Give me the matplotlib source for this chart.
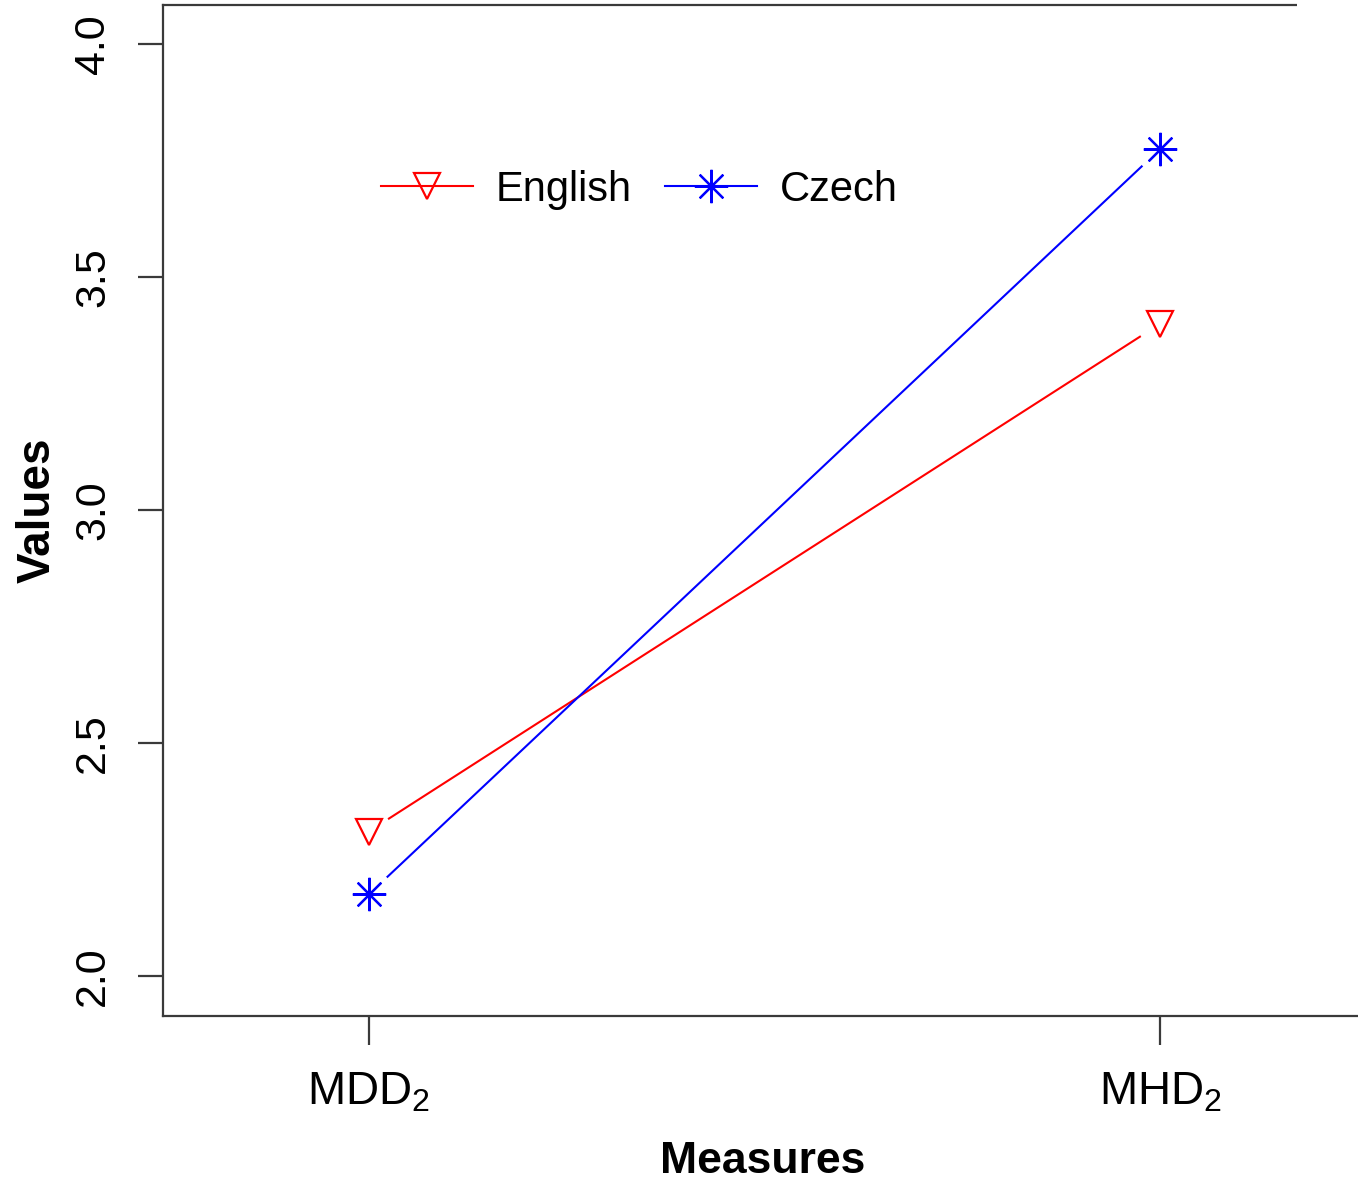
import matplotlib
matplotlib.use("Agg")
import matplotlib.pyplot as plt
from matplotlib.patches import Rectangle
from matplotlib.lines import Line2D

# ---- data ----
measures = [r"$\mathrm{MDD}_2$", r"$\mathrm{MHD}_2$"]
english = [2.31, 3.40]
czech = [2.175, 3.775]
yticks = [2.0, 2.5, 3.0, 3.5, 4.0]
ytick_labels = ["2.0", "2.5", "3.0", "3.5", "4.0"]

plt.rcParams["font.family"] = ["Liberation Sans", "DejaVu Sans"]
plt.rcParams["mathtext.fontset"] = "custom"
plt.rcParams["mathtext.rm"] = "Liberation Sans"
plt.rcParams["mathtext.it"] = "Liberation Sans:italic"

W, H = 1358, 1182
fig = plt.figure(figsize=(W / 100, H / 100), dpi=100)
L, R, T, B = 163, 1366, 5, 1016
ax = fig.add_axes([L / W, 1 - B / H, (R - L) / W, (B - T) / H])

x = list(range(len(measures)))
spine_c = "#3a3a3a"
red, blue = "#ff0000", "#0000ff"

ax.plot(x, english, color=red, lw=1.5, zorder=2)
ax.plot(x, czech, color=blue, lw=1.5, zorder=2)
# gaps around points (R type="b")
ax.plot(x, english, ls="none", marker="o", ms=33, mfc="white", mec="none", zorder=3)
ax.plot(x, czech, ls="none", marker="o", ms=35, mfc="white", mec="none", zorder=3)
ax.plot(x, english, ls="none", marker="v", ms=19, mfc="none", mec=red, mew=1.6, zorder=4)
ax.plot(x, czech, ls="none", marker=(8, 2, 0), ms=24, mec=blue, mew=1.6, zorder=4)

h1 = Line2D([], [], color=red, lw=1.5, marker="v", ms=19, mfc="none", mec=red, mew=1.6)
h2 = Line2D([], [], color=blue, lw=1.5, marker=(8, 2, 0), ms=24, mec=blue, mew=1.6)

ax.set_xlim(-0.26, 1.26)
ax.set_ylim(1.914, 4.084)
ax.set_xticks(x)
ax.set_xticklabels(measures, fontsize=33)
ax.set_yticks(yticks)
ax.set_yticklabels(ytick_labels, fontsize=31, rotation=90, va="center")

for s in ["left", "top", "bottom"]:
    ax.spines[s].set_color(spine_c)
    ax.spines[s].set_linewidth(1.6)
ax.spines["right"].set_visible(False)
ax.tick_params(axis="y", length=18, width=1.6, color=spine_c, pad=18)
ax.tick_params(axis="x", length=21, width=1.6, color=spine_c, pad=18)

ax.set_xlabel("Measures", fontsize=32, fontweight="bold")
ax.xaxis.set_label_coords(0.4988, -0.124)
ax.set_ylabel("Values", fontsize=33, fontweight="bold")
ax.yaxis.set_label_coords(-0.086, 0.5)

leg = fig.legend([h1, h2], ["English", "Czech"], ncol=2, frameon=False,
                 loc="center left", bbox_to_anchor=(381 / W, 1 - 190 / H),
                 prop={"size": 30},
                 handlelength=2.2, handletextpad=0.55, columnspacing=0.8,
                 borderpad=0, borderaxespad=0, numpoints=1)

fig.patches.append(Rectangle((1297 / W, 1 - 62 / H), 61 / W, 62 / H,
                             transform=fig.transFigure, facecolor="white",
                             edgecolor="none", zorder=10))

fig.savefig("out.png", dpi=100, facecolor="white")
